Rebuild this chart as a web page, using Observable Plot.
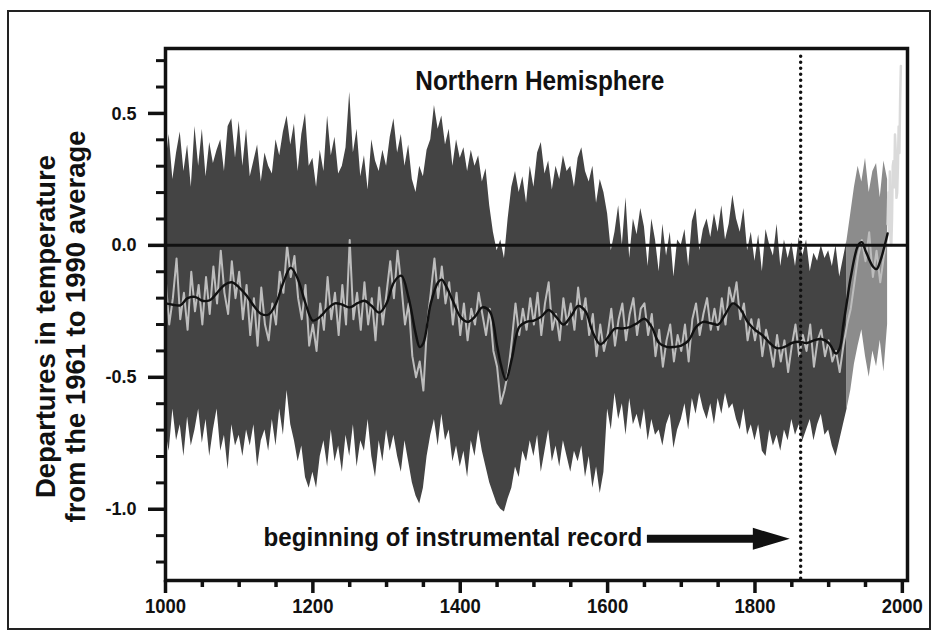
<!DOCTYPE html>
<html><head><meta charset="utf-8">
<script src="https://cdn.jsdelivr.net/npm/d3@7"></script>
<script src="https://cdn.jsdelivr.net/npm/@observablehq/plot@0.6"></script>
<style>
html,body{margin:0;padding:0;background:#fff;}
#wrap{position:relative;width:940px;height:637px;overflow:hidden;background:#fff;}
#border{position:absolute;left:7px;top:10px;width:924px;height:620px;border:2px solid #222;box-sizing:border-box;}
#chart{position:absolute;left:0;top:0;}
</style></head><body>
<div id="wrap"><div id="border"></div><div id="chart"></div></div>
<script>
// ---- data ----
const bandStart = 1000, bandStep = 5; // band / annual values every 5 years, 1000..1980
const upper = [
 0.30,0.42,0.25,0.35,0.43,0.28,0.38,0.22,0.45,0.30,
 0.44,0.26,0.39,0.31,0.36,0.40,0.28,0.45,0.48,0.33,
 0.47,0.30,0.44,0.26,0.32,0.38,0.24,0.35,0.30,0.27,
 0.40,0.34,0.43,0.49,0.38,0.46,0.28,0.42,0.50,0.30,
 0.33,0.22,0.36,0.28,0.49,0.34,0.41,0.27,0.30,0.37,
 0.58,0.35,0.44,0.26,0.34,0.21,0.40,0.32,0.28,0.36,
 0.30,0.41,0.48,0.35,0.42,0.30,0.38,0.25,0.20,0.30,
 0.26,0.36,0.40,0.53,0.44,0.49,0.38,0.44,0.30,0.40,
 0.33,0.37,0.28,0.36,0.30,0.34,0.24,0.29,0.15,0.05,
 -0.02,0.02,-0.05,0.10,0.22,0.28,0.20,0.26,0.16,0.30,
 0.22,0.35,0.39,0.27,0.32,0.21,0.30,0.25,0.34,0.28,
 0.30,0.22,0.33,0.37,0.28,0.24,0.30,0.16,0.25,0.20,
 0.12,-0.02,0.05,0.15,0.00,0.18,-0.05,0.10,0.04,0.14,
 0.07,-0.08,0.10,0.02,-0.10,0.08,-0.04,0.05,-0.12,0.02,
 0.00,0.06,-0.08,0.09,0.14,-0.02,0.06,0.10,0.03,0.12,
 0.05,0.15,0.02,0.08,0.19,0.10,0.05,0.14,-0.02,0.05,
 -0.06,0.04,-0.10,0.06,0.00,-0.04,0.08,-0.08,0.02,-0.05,
 0.01,-0.08,0.03,-0.04,0.02,-0.10,-0.03,-0.06,0.00,-0.05,
 -0.02,-0.08,0.00,-0.12,-0.05,0.02,0.12,0.22,0.30,0.24,
 0.33,0.20,0.28,0.31,0.18,0.32,0.25
];
const lower = [
 -0.70,-0.78,-0.62,-0.74,-0.68,-0.80,-0.65,-0.76,-0.70,-0.62,
 -0.75,-0.66,-0.80,-0.70,-0.62,-0.78,-0.72,-0.85,-0.68,-0.76,
 -0.72,-0.80,-0.70,-0.76,-0.68,-0.84,-0.74,-0.70,-0.78,-0.66,
 -0.76,-0.62,-0.72,-0.55,-0.68,-0.74,-0.82,-0.76,-0.88,-0.92,
 -0.86,-0.92,-0.80,-0.74,-0.84,-0.70,-0.82,-0.76,-0.86,-0.72,
 -0.80,-0.68,-0.84,-0.74,-0.78,-0.66,-0.80,-0.88,-0.74,-0.82,
 -0.70,-0.78,-0.72,-0.80,-0.86,-0.74,-0.82,-0.90,-0.95,-0.98,
 -0.92,-0.80,-0.72,-0.66,-0.76,-0.64,-0.74,-0.70,-0.82,-0.76,
 -0.84,-0.78,-0.88,-0.74,-0.80,-0.70,-0.78,-0.84,-0.90,-0.94,
 -0.98,-1.00,-1.01,-0.96,-0.92,-0.84,-0.88,-0.78,-0.82,-0.74,
 -0.80,-0.72,-0.86,-0.78,-0.70,-0.82,-0.76,-0.84,-0.74,-0.80,
 -0.86,-0.78,-0.82,-0.76,-0.88,-0.80,-0.92,-0.84,-0.94,-0.86,
 -0.62,-0.70,-0.56,-0.66,-0.60,-0.72,-0.58,-0.68,-0.64,-0.70,
 -0.62,-0.74,-0.66,-0.72,-0.70,-0.76,-0.68,-0.64,-0.77,-0.70,
 -0.66,-0.60,-0.70,-0.58,-0.64,-0.56,-0.62,-0.66,-0.60,-0.68,
 -0.58,-0.64,-0.56,-0.62,-0.60,-0.66,-0.70,-0.62,-0.72,-0.68,
 -0.74,-0.68,-0.78,-0.80,-0.70,-0.76,-0.72,-0.78,-0.70,-0.74,
 -0.66,-0.72,-0.68,-0.74,-0.70,-0.66,-0.74,-0.68,-0.64,-0.72,
 -0.70,-0.76,-0.80,-0.74,-0.68,-0.62,-0.55,-0.45,-0.38,-0.32,
 -0.42,-0.50,-0.40,-0.46,-0.36,-0.48,-0.30
];
const annual = [
 -0.12,-0.30,-0.20,-0.05,-0.28,-0.18,-0.32,-0.10,-0.25,-0.15,
 -0.30,-0.12,-0.26,-0.08,-0.22,-0.02,-0.18,-0.26,-0.06,-0.20,
 -0.10,-0.28,-0.15,-0.34,-0.20,-0.38,-0.16,-0.30,-0.36,-0.22,
 -0.30,-0.10,-0.18,0.00,-0.12,-0.04,-0.20,-0.28,-0.15,-0.38,
 -0.30,-0.40,-0.22,-0.32,-0.12,-0.28,-0.18,-0.34,-0.15,-0.30,
 0.02,-0.28,-0.18,-0.32,-0.14,-0.30,-0.20,-0.36,-0.16,-0.30,
 -0.18,-0.06,-0.20,-0.02,-0.15,-0.30,-0.22,-0.42,-0.50,-0.44,
 -0.55,-0.30,-0.18,-0.05,-0.20,-0.08,-0.22,-0.14,-0.30,-0.18,
 -0.34,-0.22,-0.36,-0.24,-0.30,-0.18,-0.26,-0.34,-0.24,-0.40,
 -0.46,-0.60,-0.55,-0.48,-0.36,-0.22,-0.34,-0.24,-0.32,-0.20,
 -0.30,-0.18,-0.34,-0.22,-0.14,-0.32,-0.26,-0.36,-0.20,-0.30,
 -0.22,-0.32,-0.16,-0.28,-0.20,-0.34,-0.26,-0.42,-0.30,-0.40,
 -0.34,-0.24,-0.38,-0.28,-0.22,-0.36,-0.26,-0.20,-0.34,-0.24,
 -0.22,-0.34,-0.26,-0.42,-0.32,-0.46,-0.36,-0.30,-0.44,-0.34,
 -0.40,-0.30,-0.44,-0.28,-0.22,-0.34,-0.26,-0.20,-0.32,-0.24,
 -0.32,-0.20,-0.30,-0.16,-0.22,-0.14,-0.28,-0.22,-0.36,-0.28,
 -0.36,-0.28,-0.42,-0.32,-0.38,-0.46,-0.34,-0.44,-0.36,-0.48,
 -0.38,-0.30,-0.42,-0.34,-0.40,-0.30,-0.46,-0.36,-0.32,-0.42,
 -0.36,-0.44,-0.40,-0.48,-0.38,-0.30,-0.24,-0.14,-0.04,0.02,
 -0.06,0.05,-0.12,-0.02,-0.14,-0.04,0.04
];
const smoothYears = [
 1000,1010,1020,1030,1040,1050,1060,1070,1080,1090,
 1100,1110,1120,1130,1140,1150,1160,1170,1180,1190,
 1200,1210,1220,1230,1240,1250,1260,1270,1280,1290,
 1300,1310,1320,1330,1340,1345,1350,1360,1370,1375,
 1380,1390,1400,1410,1420,1430,1440,1450,1455,1462,
 1470,1480,1490,1500,1510,1520,1530,1540,1550,1560,
 1570,1580,1590,1600,1610,1620,1630,1640,1650,1660,
 1670,1680,1690,1700,1710,1720,1730,1740,1750,1760,
 1770,1780,1790,1800,1810,1820,1830,1840,1850,1860,
 1870,1880,1890,1900,1910,1915,1920,1925,1930,1940,
 1945,1950,1960,1965,1970,1980
];
const smoothValues = [
 -0.22,-0.225,-0.227,-0.20,-0.195,-0.21,-0.208,-0.18,-0.15,-0.14,
 -0.16,-0.19,-0.23,-0.26,-0.262,-0.22,-0.14,-0.085,-0.13,-0.22,
 -0.285,-0.27,-0.24,-0.22,-0.225,-0.235,-0.22,-0.21,-0.23,-0.255,
 -0.22,-0.14,-0.115,-0.20,-0.34,-0.385,-0.37,-0.22,-0.14,-0.13,
 -0.15,-0.21,-0.27,-0.29,-0.27,-0.235,-0.25,-0.38,-0.45,-0.51,
 -0.43,-0.31,-0.29,-0.285,-0.27,-0.245,-0.27,-0.30,-0.27,-0.23,
 -0.25,-0.33,-0.375,-0.35,-0.315,-0.315,-0.31,-0.295,-0.278,-0.31,
 -0.37,-0.385,-0.385,-0.38,-0.36,-0.31,-0.29,-0.295,-0.30,-0.26,
 -0.22,-0.24,-0.29,-0.32,-0.34,-0.37,-0.39,-0.385,-0.37,-0.365,
 -0.37,-0.36,-0.355,-0.37,-0.41,-0.39,-0.30,-0.21,-0.12,0.00,
 0.012,-0.02,-0.08,-0.09,-0.06,0.045
];
const instrumentalYears = [1980,1981,1982,1983,1984,1985,1986,1987,1988,1989,1990,1991,1992,1993,1994,1995,1996,1997,1998];
const instrumentalValues = [0.08,0.20,0.05,0.28,0.02,0.00,0.10,0.30,0.32,0.22,0.42,0.36,0.18,0.20,0.30,0.45,0.35,0.55,0.68];
const xMajorTicks = [1000,1200,1400,1600,1800,2000];
const xMinorTicks = [1050,1100,1150,1250,1300,1350,1450,1500,1550,1650,1700,1750,1850,1900,1950];
const yMajorTicks = [-1.0,-0.5,0.0,0.5];
const yMinorTicks = [-1.2,-1.1,-0.9,-0.8,-0.7,-0.6,-0.4,-0.3,-0.2,-0.1,0.1,0.2,0.3,0.4,0.6,0.7];
const titleText = "Northern Hemisphere";
const yTitleLines = ["Departures in temperature", "from the 1961 to 1990 average"];
const annotationText = "beginning of instrumental record";
const instrumentalStart = 1862;

// ---- build tables ----
const bandRows = upper.map((u, i) => ({year: bandStart + i * bandStep, upper: u, lower: lower[i], annual: annual[i]}));
const smoothRows = smoothYears.map((y, i) => ({year: y, value: smoothValues[i]}));
const instrRows = instrumentalYears.map((y, i) => ({year: y, value: instrumentalValues[i]}));

const FONT = '"Liberation Sans","Arial",sans-serif';
// horizontal squeeze per text, to imitate the condensed bold face of the original
const SQUEEZE_TITLE = 0.87, SQUEEZE_ANNOT = 0.93, SQUEEZE_YTITLE = 0.98, SQUEEZE_XTICK = 0.88, SQUEEZE_YTICK = 0.95;
const xTickFormat = d => String(d);
const yTickFormat = d => d.toFixed(1);

// arrow annotation (data coordinates)
const arrowFrom = 1654, arrowTo = 1848, arrowY = -1.114;
function arrowMark(index, scales) {
  const xa = scales.x(arrowFrom), xb = scales.x(arrowTo), yy = scales.y(arrowY);
  const head = 37, half = 11, shaft = 4;
  const p = d3.create("svg:path")
    .attr("d", `M${xa},${yy - shaft}L${xb - head},${yy - shaft}L${xb - head},${yy - half}L${xb},${yy}L${xb - head},${yy + half}L${xb - head},${yy + shaft}L${xa},${yy + shaft}Z`)
    .attr("fill", "#111");
  return p.node();
}

const chart = Plot.plot({
  width: 940, height: 637,
  marginLeft: 165, marginRight: 33, marginTop: 48, marginBottom: 57,
  x: {domain: [1000, 2007], label: null},
  y: {domain: [-1.27, 0.746], label: null},
  style: {fontFamily: FONT, background: "transparent", color: "#111"},
  marks: [
    Plot.areaY(bandRows.filter(d => d.year <= 1925), {x: "year", y1: "lower", y2: "upper", fill: "#444"}),
    Plot.areaY(bandRows.filter(d => d.year >= 1925), {x: "year", y1: "lower", y2: "upper", fill: "#8c8c8c"}),
    Plot.lineY(bandRows, {x: "year", y: "annual", stroke: "#bdbdbd", strokeWidth: 2}),
    Plot.lineY(instrRows, {x: "year", y: "value", stroke: "#dadada", strokeWidth: 2.5}),
    Plot.ruleY([0], {stroke: "#111", strokeWidth: 3}),
    Plot.lineY(smoothRows, {x: "year", y: "value", curve: "catmull-rom", stroke: "#111", strokeWidth: 2.4}),
    Plot.ruleX([instrumentalStart], {y1: 0.715, y2: -1.27, stroke: "#111", strokeWidth: 3.5, strokeDasharray: "0,6", strokeLinecap: "round"}),
    Plot.frame({stroke: "#111", strokeWidth: 3.5}),
    Plot.axisX(xMinorTicks, {tickSize: 7, strokeWidth: 3.5, tickFormat: () => "", label: null}),
    Plot.axisX(xMajorTicks, {tickSize: 13, strokeWidth: 3.5, tickPadding: 5, tickFormat: xTickFormat, label: null}),
    Plot.axisY(yMinorTicks, {tickSize: 9, strokeWidth: 3, tickFormat: () => "", label: null}),
    Plot.axisY(yMajorTicks, {tickSize: 17, strokeWidth: 3.5, tickPadding: 12, tickFormat: yTickFormat, label: null}),
    Plot.text([yTitleLines.join("\n")], {frameAnchor: "left", dx: -105, dy: 12, rotate: -90, fontSize: 28, fontWeight: "bold", lineHeight: 1.08, textAnchor: "middle", fill: "#111"}),
    Plot.text([titleText], {x: 1508, y: 0.587, textAnchor: "middle", lineAnchor: "bottom", fontSize: 28, fontWeight: "bold", fill: "#111"}),
    Plot.text([annotationText], {x: 1133, y: -1.14, textAnchor: "start", lineAnchor: "bottom", fontSize: 26, fontWeight: "bold", fill: "#111"}),
    arrowMark
  ]
});
// squeeze a text horizontally about its anchor; only when it is positioned by a transform
function squeeze(t, k) {
  const tr = t.getAttribute("transform");
  if (tr && /translate/.test(tr)) t.setAttribute("transform", tr + ` scale(${k},1)`);
}
const xLabels = new Set(xMajorTicks.map(xTickFormat));
const yLabels = new Set(yMajorTicks.map(yTickFormat));
chart.querySelectorAll("text").forEach(t => {
  const s = t.textContent;
  if (xLabels.has(s)) {
    t.style.fontSize = "21px"; t.style.fontWeight = "bold"; squeeze(t, SQUEEZE_XTICK);
  } else if (yLabels.has(s)) {
    t.style.fontSize = "19px"; t.style.fontWeight = "bold"; squeeze(t, SQUEEZE_YTICK);
  } else if (s === titleText) squeeze(t, SQUEEZE_TITLE);
  else if (s === annotationText) squeeze(t, SQUEEZE_ANNOT);
  else if (s.startsWith(yTitleLines[0])) squeeze(t, SQUEEZE_YTITLE);
});
document.getElementById("chart").append(chart);
</script>
</body></html>
